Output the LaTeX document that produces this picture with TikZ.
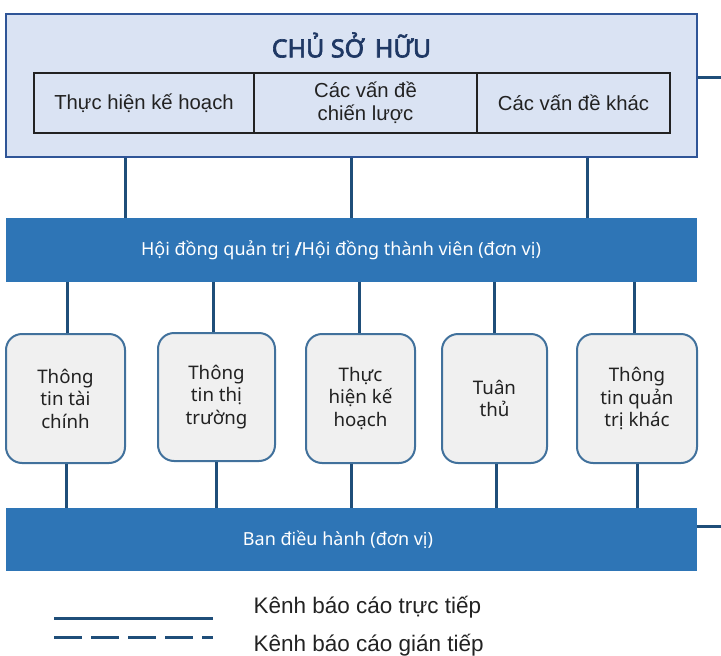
\documentclass[tikz,border=0pt]{standalone}
\usepackage{fontspec}
\setmainfont{Liberation Sans}
\newfontfamily\myriad{Noto Sans}
\newfontfamily\myriadbold{Noto Sans}[FakeBold=2.5]
\usetikzlibrary{positioning}
\definecolor{ownerfill}{RGB}{218,227,243}
\definecolor{owneredge}{RGB}{47,85,151}
\definecolor{titleblue}{RGB}{31,56,100}
\definecolor{barblue}{RGB}{46,117,182}
\definecolor{boxfill}{RGB}{240,240,240}
\definecolor{boxedge}{RGB}{65,113,156}
\definecolor{linkblue}{RGB}{31,78,121}
\definecolor{txt}{RGB}{34,34,34}

\begin{document}
\begin{tikzpicture}[x=1pt, y=-1pt,
    link/.style={draw=linkblue, line width=3pt},
    cell/.style={draw=txt, line width=2.5pt, minimum height=60pt, inner sep=0pt,
      align=center, text=txt, font=\fontsize{20.3}{23}\selectfont},
    bar/.style={fill=barblue, minimum width=691pt, inner sep=0pt},
    bartext/.style={text=white, inner sep=0pt, font=\myriad\fontsize{18}{22}\selectfont},
    infobox/.style={draw=boxedge, line width=2pt, fill=boxfill, rounded corners=16pt,
      minimum height=129pt, inner sep=0pt, align=center, text=txt,
      font=\myriad\fontsize{18.7}{22.5}\selectfont}]
  \useasboundingbox (0,0) rectangle (721,656);

  % owner block
  \node[draw=owneredge, line width=1.5pt, fill=ownerfill, minimum width=691pt,
        minimum height=143pt, inner sep=0pt] (owner) at (351.5,85.5) {};
  \node[text=titleblue, font=\myriadbold\fontsize{25}{28}\selectfont] (title) at (351.5,45) {CHỦ SỞ\ \,HỮU};
  \node[cell, minimum width=220pt] (plan) at (144,103) {Thực hiện kế hoạch};
  \node[cell, minimum width=223pt] (strat) at (365.5,103) {Các vấn đề\\chiến lược};
  \node[cell, minimum width=193pt] (other) at (573.5,103) {Các vấn đề khác};

  % bars
  \node[bar, minimum height=64pt] (board) at (351.5,250) {};
  \node[bartext] (boardlabel) at (341,250)
    {Hội đồng quản trị {\myriadbold/}Hội đồng thành viên (đơn vị)};
  \node[bar, minimum height=63pt] (exec) at (351.5,539.5) {};
  \node[bartext] (execlabel) at (338,540) {Ban điều hành (đơn vị)};

  % information boxes
  \node[infobox, minimum width=119pt] (fin) at (65.5,398.5) {Thông\\tin tài\\chính};
  \node[infobox, minimum width=117pt, minimum height=128pt] (mkt) at (216.5,397) {Thông\\tin thị\\trường};
  \node[infobox, minimum width=109pt] (exe) at (360.5,398.5) {Thực\\hiện kế\\hoạch};
  \node[infobox, minimum width=105pt] (comp) at (494.5,398.5) {Tuân\\thủ};
  \node[infobox, minimum width=120pt] (gov) at (637,398.5) {Thông\\tin quản\\trị khác};

  % owner -> board
  \foreach \dx in {-226.5, 0, 235.5}
    \draw[link] ([xshift=\dx pt]owner.south) -- ([xshift=\dx pt]owner.south |- board.north);

  % board -> boxes -> exec
  \foreach \b/\up/\dn in {fin/1.5/0.5, mkt/-3.5/-0.5, exe/-1.5/-9.5, comp/-0.5/1.5, gov/-3/0}{
    \draw[link] ([xshift=\up pt]\b.north) -- ([xshift=\up pt]\b.north |- board.south);
    \draw[link] ([xshift=\dn pt]\b.south) -- ([xshift=\dn pt]\b.south |- exec.north);
  }

  % stubs to the right
  \coordinate (ownerout) at (721,77);
  \coordinate (execout) at (721,526);
  \draw[link] (owner.east |- ownerout) -- (ownerout);
  \draw[link] (exec.east |- execout) -- (execout);

  % legend
  \coordinate (solidA) at (54,618);
  \coordinate (solidB) at (213,618);
  \coordinate (dashA) at (54,637);
  \coordinate (dashB) at (213,637);
  \draw[link] (solidA) -- (solidB);
  \draw[link, dash pattern=on 28pt off 9pt] (dashA) -- (dashB);
  \node[anchor=west, text=txt, font=\fontsize{22.5}{26}\selectfont] (direct) at (250,607) {Kênh báo cáo trực tiếp};
  \node[anchor=west, text=txt, font=\fontsize{22.5}{26}\selectfont] (indirect) at (250,645) {Kênh báo cáo gián tiếp};
\end{tikzpicture}
\end{document}
